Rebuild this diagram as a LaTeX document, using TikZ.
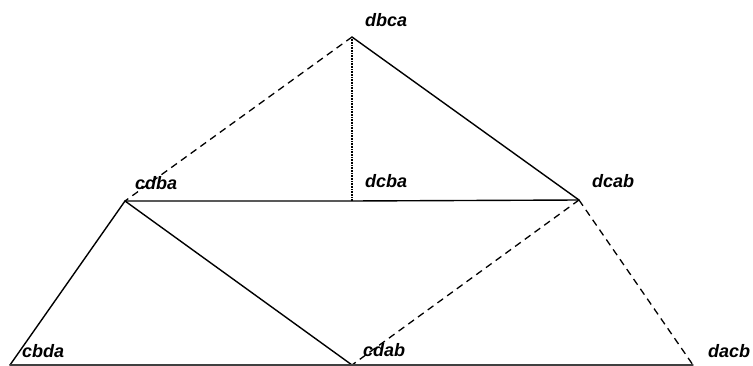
\documentclass[tikz,border=0pt]{standalone}
\usepackage{fontspec}
\setmainfont{Liberation Sans}
\begin{document}
\begin{tikzpicture}[x=1pt,y=-1pt,
  edge/.style={line width=1.4pt, line cap=round},
  dashedge/.style={line width=1.3pt, dash pattern=on 7pt off 5pt},
  dotedge/.style={line width=1.6pt, dash pattern=on 0.8pt off 0.8pt},
  lbl/.style={anchor=base west, inner sep=0pt, font=\fontsize{18}{20}\selectfont\bfseries\itshape}]
\fill[white] (0,0) rectangle (753,366);
\useasboundingbox (0,0) rectangle (753,366);
\coordinate (dbca) at (352,37);
\coordinate (cdba) at (125,201);
\coordinate (dcba) at (352,201);
\coordinate (dcab) at (579,200);
\coordinate (cbda) at (10,365);
\coordinate (cdab) at (352,365);
\coordinate (dacb) at (693,365);
\node[lbl] (ldbca) at (365,27) {dbca};
\node[lbl] (lcdba) at (135,190) {cdba};
\node[lbl] (ldcba) at (365,188) {dcba};
\node[lbl] (ldcab) at (592,188) {dcab};
\node[lbl] (lcbda) at (22,357) {cbda};
\node[lbl] (lcdab) at (363,356) {cdab};
\node[lbl] (ldacb) at (708,357) {dacb};
\draw[dashedge] (dbca) -- (cdba);
\draw[dotedge] (dbca) -- (dcba);
\draw[edge] (dbca) -- (dcab);
\draw[edge] (cdba) -- (dcba) -- (dcab);
\draw[edge] (cdba) -- (cbda);
\draw[edge] (cdba) -- (cdab);
\draw[dashedge] (dcab) -- (cdab);
\draw[dashedge] (dcab) -- (dacb);
\draw[edge, black!75] (cbda) -- (cdab) -- (dacb);
\end{tikzpicture}
\end{document}
